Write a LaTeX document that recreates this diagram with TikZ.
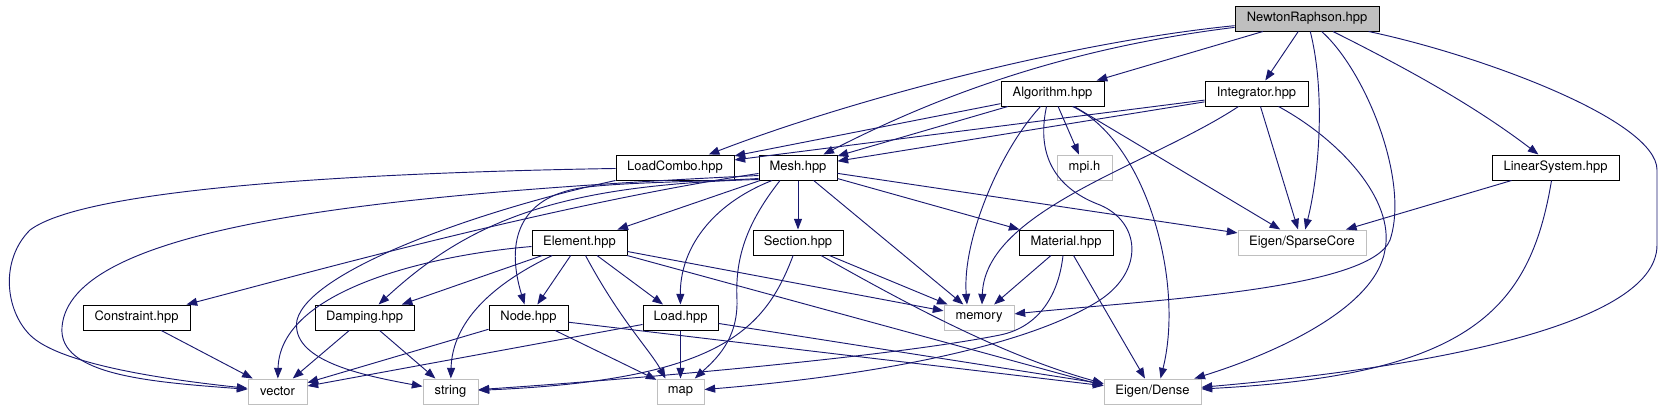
\documentclass[tikz,border=0pt]{standalone}
\usepackage{fontspec}
\setmainfont{TeX Gyre Heros}
\usetikzlibrary{arrows.meta,calc}
\definecolor{navyedge}{HTML}{191970}
\definecolor{grayline}{HTML}{BFBFBF}
\definecolor{grayfill}{HTML}{BFBFBF}
\begin{document}
\begin{tikzpicture}[x=0.75pt,y=-0.75pt,
  hdr/.style={draw=black, line width=0.75pt, fill=white, minimum height=18.75pt, inner sep=0pt, font=\fontsize{9.7}{11}\selectfont},
  sys/.style={draw=grayline, line width=0.75pt, fill=white, minimum height=18.75pt, inner sep=0pt, font=\fontsize{9.7}{11}\selectfont},
  dep/.style={draw=navyedge, line width=0.7pt, -{Triangle[length=8pt,width=6pt]}}]
\useasboundingbox (0,0) rectangle (1662,411);
% nodes
\node[hdr, fill=grayfill, minimum width=108pt] (nr) at (1307,18.5) {NewtonRaphson.hpp};
\node[hdr, minimum width=77.25pt] (alg) at (1052.5,93.5) {Algorithm.hpp};
\node[hdr, minimum width=77.25pt] (integ) at (1256.5,93.5) {Integrator.hpp};
\node[hdr, minimum width=88.5pt] (lc) at (675,167.5) {LoadCombo.hpp};
\node[hdr, minimum width=58.5pt] (mesh) at (798,167.5) {Mesh.hpp};
\node[sys, minimum width=41.25pt] (mpi) at (1084.5,167.5) {mpi.h};
\node[hdr, minimum width=95.25pt] (ls) at (1555.5,167.5) {LinearSystem.hpp};
\node[hdr, minimum width=71.25pt] (elem) at (579.5,242.5) {Element.hpp};
\node[hdr, minimum width=67.5pt] (sect) at (798,242.5) {Section.hpp};
\node[hdr, minimum width=70.5pt] (mat) at (1066,242.5) {Material.hpp};
\node[sys, minimum width=96pt] (sc) at (1302,242.5) {Eigen/SparseCore};
\node[hdr, minimum width=80.25pt] (cons) at (136.5,317.5) {Constraint.hpp};
\node[hdr, minimum width=74.25pt] (damp) at (364.5,317.5) {Damping.hpp};
\node[hdr, minimum width=59.25pt] (nde) at (528.5,317.5) {Node.hpp};
\node[hdr, minimum width=56.25pt] (load) at (680.5,317.5) {Load.hpp};
\node[sys, minimum width=52.5pt] (mem) at (979,317.5) {memory};
\node[sys, minimum width=44.25pt] (vec) at (277.5,391.5) {vector};
\node[sys, minimum width=41.25pt] (str) at (450.5,391.5) {string};
\node[sys, minimum width=35.25pt] (map) at (680.5,391.5) {map};
\node[sys, minimum width=72.75pt] (dense) at (1152.5,391.5) {Eigen/Dense};
% NewtonRaphson
\draw[dep] (nr) .. controls (1070,42) and (850,100) .. (lc);
\draw[dep] (nr) .. controls (1050,50) and (920,105) .. (mesh);
\draw[dep] (nr) -- (alg);
\draw[dep] (nr) -- (integ);
\draw[dep] (nr) .. controls (1325,90) and (1320,170) .. (sc);
\draw[dep] (nr) .. controls (1365,70) and (1410,180) .. (1390,240) .. controls (1370,290) and (1150,300) .. (mem);
\draw[dep] (nr) .. controls (1420,75) and (1480,110) .. (ls);
\draw[dep] (nr) .. controls (1480,55) and (1657,120) .. (1657,170) -- (1657,245) .. controls (1657,330) and (1400,370) .. (dense);
% Algorithm
\draw[dep] (alg) -- (lc);
\draw[dep] (alg) -- (mesh);
\draw[dep] ($(alg.south)+(-12,0)$) .. controls (1000,150) and (962,240) .. ($(mem.north)+(-12,0)$);
\draw[dep] ($(alg.south)+(-6,0)$) .. controls (1035,160) and (1060,190) .. (1100,205) .. controls (1140,222) and (1145,270) .. (1100,300) .. controls (1030,345) and (880,375) .. (map);
\draw[dep] (alg) -- (mpi);
\draw[dep] ($(alg.south)+(20,0)$) .. controls (1145,140) and (1185,280) .. ($(dense.north)+(8,0)$);
\draw[dep] (alg) -- (sc);
% Integrator
\draw[dep] (integ) -- (lc);
\draw[dep] (integ) -- (mesh);
\draw[dep] ($(integ.south)+(-18,0)$) .. controls (1150,165) and (985,210) .. ($(mem.north)+(3,0)$);
\draw[dep] (integ) -- (sc);
\draw[dep] ($(integ.south)+(22,0)$) .. controls (1340,140) and (1395,200) .. (1385,250) .. controls (1375,310) and (1270,355) .. (dense);
% LinearSystem
\draw[dep] (ls) -- (sc);
\draw[dep] ($(ls.south)+(-4,0)$) .. controls (1530,310) and (1470,375) .. (dense);
% Mesh
\draw[dep] (mesh) -- (elem);
\draw[dep] (mesh) -- (sect);
\draw[dep] ($(mesh.south)+(-26,0)$) .. controls (710,205) and (680,250) .. (load);
\draw[dep] ($(mesh.south)+(-18,0)$) .. controls (745,225) and (735,260) .. (737,300) .. controls (738,340) and (715,360) .. (map);
\draw[dep] (mesh) -- (mem);
\draw[dep] (mesh) -- (mat);
\draw[dep] (mesh) -- (sc);
\draw[dep] ($(mesh.west)+(0,11)$) .. controls (700,182) and (620,182) .. (580,188) .. controls (520,198) and (505,240) .. (nde);
\draw[dep] (mesh) .. controls (550,205) and (300,275) .. (cons);
\draw[dep] ($(mesh.west)+(0,12)$) .. controls (560,185) and (470,220) .. (damp);
\draw[dep] ($(mesh.west)+(0,8)$) .. controls (350,195) and (70,230) .. (62,327) .. controls (58,375) and (150,382) .. (vec);
% LoadCombo
\draw[dep] (lc) .. controls (400,172) and (90,185) .. (30,230) .. controls (0,260) and (5,310) .. (30,335) .. controls (60,365) and (170,380) .. (vec);
\draw[dep] (lc.south west) .. controls (480,210) and (310,270) .. (297,320) .. controls (290,360) and (360,375) .. (str);
% Element
\draw[dep] (elem) .. controls (430,255) and (280,290) .. (vec);
\draw[dep] (elem) -- (damp);
\draw[dep] (elem) .. controls (480,290) and (452,330) .. (str);
\draw[dep] (elem) -- (nde);
\draw[dep] ($(elem.south)+(6,0)$) .. controls (620,320) and (650,350) .. ($(map.north)+(-15,0)$);
\draw[dep] (elem) -- (load);
\draw[dep] (elem) -- (mem);
\draw[dep] (elem) -- ($(dense.west)+(0,-6)$);
% Section
\draw[dep] (sect) .. controls (765,330) and (720,380) .. (str);
\draw[dep] (sect) -- (mem);
\draw[dep] (sect) .. controls (900,300) and (1000,355) .. ($(dense.west)+(0,-8)$);
% Material
\draw[dep] (mat) -- (mem);
\draw[dep] (mat) -- (dense);
\draw[dep] ($(mat.south)+(-3,0)$) .. controls (1058,300) and (1035,328) .. (1000,335) .. controls (895,356) and (650,378) .. (str);
% Node
\draw[dep] (nde) -- (vec);
\draw[dep] (nde) -- (map);
\draw[dep] (nde) -- (dense);
% Load
\draw[dep] (load) -- (vec);
\draw[dep] (load) -- (map);
\draw[dep] (load) -- (dense);
% Damping, Constraint
\draw[dep] (damp) -- (vec);
\draw[dep] (damp) -- (str);
\draw[dep] (cons) -- (vec);
\end{tikzpicture}
\end{document}
